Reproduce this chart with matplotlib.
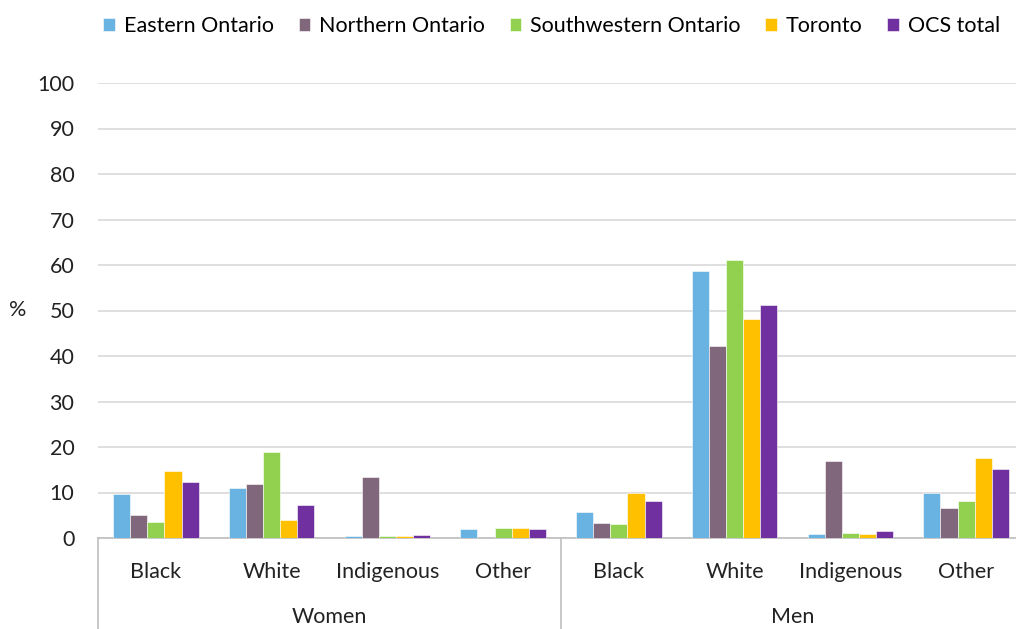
import numpy as np
import matplotlib
matplotlib.use('Agg')
import matplotlib.pyplot as plt
import matplotlib.transforms as mtransforms

plt.rcParams['font.family'] = ['Lato', 'DejaVu Sans']

groups = ['Women', 'Men']
categories = ['Black', 'White', 'Indigenous', 'Other']
series = ['Eastern Ontario', 'Northern Ontario', 'Southwestern Ontario', 'Toronto', 'OCS total']
colors = ['#69B3E3', '#80677C', '#92D050', '#FFC000', '#7030A0']

# values per series: Women (Black, White, Indigenous, Other), Men (Black, White, Indigenous, Other)
eastern = [9.7, 11.0, 0.4, 2.0, 5.7, 58.6, 0.95, 9.9]
northern = [4.95, 11.8, 13.3, 0.0, 3.35, 42.2, 16.9, 6.55]
southwestern = [3.57, 18.95, 0.45, 2.2, 3.05, 61.1, 1.2, 8.2]
toronto = [14.8, 4.0, 0.45, 2.2, 9.9, 48.1, 0.95, 17.6]
ocs_total = [12.25, 7.3, 0.7, 2.0, 8.2, 51.1, 1.5, 15.1]
values = [eastern, northern, southwestern, toronto, ocs_total]

fig = plt.figure(figsize=(10.16, 6.29), dpi=100)
ax = fig.add_axes([98 / 1016, 91 / 629, 926 / 1016, 455 / 629])

x = np.arange(len(groups) * len(categories))
bw = 0.148
for i, (name, vals, c) in enumerate(zip(series, values, colors)):
    ax.bar(x + (i - 2) * bw, vals, bw, color=c, label=name,
           edgecolor='white', linewidth=0.4, zorder=3)

ax.set_xlim(-0.5, len(x) - 0.5)
ax.set_ylim(0, 100)
ax.set_yticks(range(0, 101, 10))
ax.yaxis.grid(True, color='#D9D9D9', linewidth=1.2, zorder=0)
ax.tick_params(axis='y', length=0, labelsize=15.5, pad=17, colors='#222222')
ax.tick_params(axis='x', length=0, labelsize=15.5, pad=17, colors='#222222')
ax.set_xticks(x)
ax.set_xticklabels(categories * len(groups))
for s in ['top', 'right', 'left']:
    ax.spines[s].set_visible(False)
ax.spines['bottom'].set_color('#BFBFBF')
ax.spines['bottom'].set_linewidth(1.2)

ax.text(-0.087, 0.5, '%', transform=ax.transAxes, fontsize=15.5,
        ha='center', va='center', color='#222222')

# group labels and separators below the axis
trans = mtransforms.blended_transform_factory(ax.transData, ax.transAxes)
for g, name in enumerate(groups):
    center = g * len(categories) + (len(categories) - 1) / 2
    ax.text(center, -0.174, name, transform=trans, fontsize=15.5,
            ha='center', va='center', color='#222222')
for sep in [-0.5, 3.5, 7.5]:
    ax.plot([sep, sep], [0, -0.2], transform=trans, color='#BFBFBF',
            linewidth=1.2, clip_on=False)

fig.legend(*ax.get_legend_handles_labels(), loc='upper right',
           bbox_to_anchor=(1.0, 1.0), ncol=5, frameon=False,
           fontsize=15.5, handlelength=0.55, handleheight=0.6, handletextpad=0.4,
           columnspacing=1.15, borderaxespad=0.35)

fig.savefig('out.png', dpi=100)
